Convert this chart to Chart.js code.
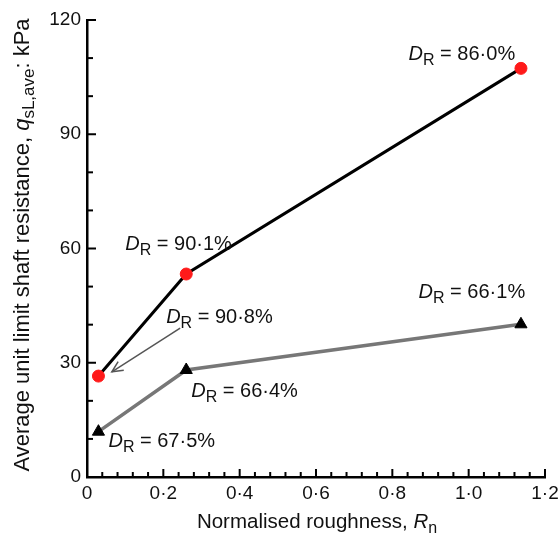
<!DOCTYPE html>
<html><head><meta charset="utf-8">
<script src="https://cdn.jsdelivr.net/npm/chart.js@4/dist/chart.umd.min.js"></script>
<style>html,body{margin:0;padding:0;background:#fff;}#wrap{width:560px;height:538px;}</style>
</head><body><div id="wrap"><canvas id="c" width="560" height="538"></canvas></div>
<script>
// ---- data ----
const roughness = [0.03, 0.26, 1.137];
const denseQs = [26.5, 53.3, 107.3];
const looseQs = [11.9, 28.1, 40.1];
const denseDR = ['90·8%', '90·1%', '86·0%'];
const looseDR = ['67·5%', '66·4%', '66·1%'];
const xTicks = [0, 0.2, 0.4, 0.6, 0.8, 1.0, 1.2];
const xTickLabels = ['0', '0·2', '0·4', '0·6', '0·8', '1·0', '1·2'];
const yTicks = [0, 30, 60, 90, 120];
const yTickLabels = ['0', '30', '60', '90', '120'];
const xMinorStep = 0.04;
const yMinorStep = 10;

// ---- label placement (pixel offsets from points) ----
const denseLabelOffsets = [[67.7, -52.7], [-61, -24], [-112.4, -8.3]];
const looseLabelOffsets = [[10, 15], [5, 26.7], [-102.4, -26]];
const arrowTail = [81.7, -48], arrowTip = [13.4, -4.3];

const FONT = '"Liberation Sans", Arial, Helvetica, sans-serif';
const TXT = '#111';

function drawRich(ctx, segs, x, y, size, subSize, subDrop, align) {
  let w = 0;
  const fonts = segs.map(s => (s.it ? 'italic ' : '') + (s.sub ? subSize : size) + 'px ' + FONT);
  segs.forEach((s, i) => { ctx.font = fonts[i]; s.w = ctx.measureText(s.t).width; w += s.w; });
  let cx = align === 'center' ? x - w / 2 : x;
  segs.forEach((s, i) => { ctx.font = fonts[i]; ctx.fillText(s.t, cx, y + (s.sub ? subDrop : 0)); cx += s.w; });
}

const decor = {
  id: 'decor',
  afterDraw(chart) {
    const ctx = chart.ctx, xs = chart.scales.x, ys = chart.scales.y, ca = chart.chartArea;
    ctx.save();
    ctx.strokeStyle = '#000';
    ctx.lineWidth = 2;
    // y ticks (inward)
    for (let v = ys.min; v <= ys.max + 1e-9; v += yMinorStep) {
      const py = ys.getPixelForValue(v);
      const major = yTicks.some(t => Math.abs(t - v) < 1e-6);
      ctx.beginPath(); ctx.moveTo(ca.left, py); ctx.lineTo(ca.left + (major ? 9 : 6), py); ctx.stroke();
    }
    // x ticks (inward)
    const n = Math.round((xs.max - xs.min) / xMinorStep);
    for (let i = 0; i <= n; i++) {
      const v = xs.min + i * xMinorStep;
      const px = xs.getPixelForValue(v);
      const major = xTicks.some(t => Math.abs(t - v) < 1e-6);
      ctx.beginPath(); ctx.moveTo(px, ca.bottom); ctx.lineTo(px, ca.bottom - (major ? 8 : 5)); ctx.stroke();
    }
    ctx.fillStyle = TXT;
    ctx.textBaseline = 'alphabetic';
    ctx.textAlign = 'left';
    // annotations
    const put = (vals, qs, offs) => {
      vals.forEach((lab, i) => {
        const px = xs.getPixelForValue(roughness[i]), py = ys.getPixelForValue(qs[i]);
        drawRich(ctx, [{t: 'D', it: true}, {t: 'R', sub: true}, {t: ' = ' + lab}], px + offs[i][0], py + offs[i][1], 20, 16, 5, 'left');
      });
    };
    put(denseDR, denseQs, denseLabelOffsets);
    put(looseDR, looseQs, looseLabelOffsets);
    // arrow to first dense point
    const p0x = xs.getPixelForValue(roughness[0]), p0y = ys.getPixelForValue(denseQs[0]);
    const tx = p0x + arrowTail[0], ty = p0y + arrowTail[1], hx = p0x + arrowTip[0], hy = p0y + arrowTip[1];
    ctx.strokeStyle = '#555'; ctx.lineWidth = 1.5;
    ctx.beginPath(); ctx.moveTo(tx, ty); ctx.lineTo(hx, hy); ctx.stroke();
    const ang = Math.atan2(hy - ty, hx - tx), L = 12, A = 0.45;
    ctx.beginPath();
    ctx.moveTo(hx - L * Math.cos(ang - A), hy - L * Math.sin(ang - A));
    ctx.lineTo(hx, hy);
    ctx.lineTo(hx - L * Math.cos(ang + A), hy - L * Math.sin(ang + A));
    ctx.stroke();
    // axis titles
    ctx.fillStyle = TXT;
    drawRich(ctx, [{t: 'Normalised roughness, '}, {t: 'R', it: true}, {t: 'n', sub: true}], (ca.left + ca.right) / 2 + 1, 528, 20.5, 16, 5, 'center');
    ctx.translate(29, 245);
    ctx.rotate(-Math.PI / 2);
    drawRich(ctx, [{t: 'Average unit limit shaft resistance, '}, {t: 'q', it: true}, {t: 'sL,ave', sub: true}, {t: ': kPa'}], 0, 0, 22, 17, 5, 'center');
    ctx.restore();
  }
};

new Chart(document.getElementById('c'), {
  type: 'scatter',
  data: {
    datasets: [
      {
        data: roughness.map((x, i) => ({x, y: looseQs[i]})),
        showLine: true,
        borderColor: '#777',
        borderWidth: 3.5,
        pointStyle: 'triangle',
        pointRadius: 7,
        pointBackgroundColor: '#000',
        pointBorderColor: '#000',
        pointBorderWidth: 1,
        clip: false
      },
      {
        data: roughness.map((x, i) => ({x, y: denseQs[i]})),
        showLine: true,
        borderColor: '#000',
        borderWidth: 3,
        pointStyle: 'circle',
        pointRadius: 6,
        pointBackgroundColor: '#ff1a1a',
        pointBorderColor: '#ff1a1a',
        pointBorderWidth: 1,
        clip: false
      }
    ]
  },
  options: {
    responsive: false,
    animation: false,
    devicePixelRatio: 1,
    layout: {padding: {left: 0, right: 15, top: 20, bottom: 0}},
    plugins: {legend: {display: false}, tooltip: {enabled: false}},
    scales: {
      x: {
        type: 'linear', min: 0, max: 1.2,
        afterBuildTicks: s => { s.ticks = xTicks.map(v => ({value: v})); },
        ticks: {callback: v => xTickLabels[xTicks.indexOf(v)], font: {family: FONT, size: 19}, color: TXT, padding: 5, maxRotation: 0, autoSkip: false},
        grid: {display: false, drawTicks: false},
        border: {display: true, color: '#000', width: 2.5},
        afterFit: s => { s.height = 61; s.paddingLeft = 0; s.paddingRight = 0; }
      },
      y: {
        type: 'linear', min: 0, max: 120,
        afterBuildTicks: s => { s.ticks = yTicks.map(v => ({value: v})); },
        ticks: {callback: v => yTickLabels[yTicks.indexOf(v)], font: {family: FONT, size: 19}, color: TXT, padding: 6, autoSkip: false},
        grid: {display: false, drawTicks: false},
        border: {display: true, color: '#000', width: 2.5},
        afterFit: s => { s.width = 87; s.paddingTop = 0; s.paddingBottom = 0; }
      }
    }
  },
  plugins: [decor]
});
</script></body></html>
